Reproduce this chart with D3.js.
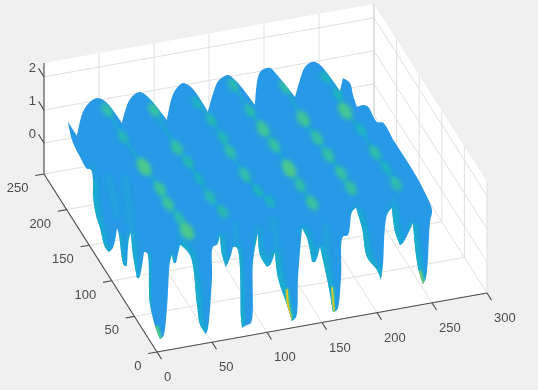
<!DOCTYPE html>
<html>
<head>
<meta charset="utf-8">
<script src="https://d3js.org/d3.v7.min.js"></script>
<style>
html, body { margin: 0; padding: 0; background: #f0f0f0; }
svg { display: block; filter: blur(0.35px); }
text { font-family: "Liberation Sans", sans-serif; font-size: 13px; fill: #4d4d4d; }
</style>
</head>
<body>
<div id="chart"></div>
<script>
var xTicks = [0, 50, 100, 150, 200, 250, 300];
var yTicks = [0, 50, 100, 150, 200, 250];
var zTicks = [0, 1, 2];

// surface outline: [x, z] along y = 235, going right
var backRow = [[15.6,.87],[23.8,.39],[29.3,1.09],[35.6,1.35],[42.9,1.43],[51.1,1.23],[64.7,.54],[70.2,1.12],[75.6,1.33],[81.1,1.38],[88.4,1.19],[105.6,.39],[110.2,1.06],[114.7,1.31],[120.2,1.42],[128.4,1.22],[142.9,.41],[151.1,1.24],[155.6,1.37],[161.1,1.42],[169.3,1.16],[185.6,.37],[188.4,1.2],[192,1.39],[199.3,1.41],[205.6,1.16],[222,.39],[226.5,.88],[231.1,1.25],[238.4,1.36],[244.7,1.23],[262.9,.33],[265.6,.71]];
// [y, z] along x = 266, coming forward
var rightEdge = [[220.4,.87],[213.7,.65],[204.9,.48],[189.4,.87],[180.5,1.01],[160.6,.98],[147.3,1.24],[123,1.21],[98.7,1.22],[74.3,1.21],[52.2,1.11],[38.9,.94]];
// [x, z] along y = 10, going left
var frontRow = [[252.3,1.28],[248.6,-.39],[245.9,-.56],[241.4,-.05],[236.8,1.34],[227.7,.79],[225,.74],[220.5,1.17],[217.7,1.91],[213.2,1.73],[209.5,.23],[207.7,-.21],[204.1,.11],[195,.56],[190.5,1.47],[185,2.11],[181.4,2.01],[177.7,1.33],[173.2,1.3],[171.4,.06],[167.7,-.88],[164.1,-.92],[159.5,-.02],[152.3,1.12],[147.7,.69],[145,.71],[140.5,1.46],[135.9,1.79],[132.3,.3],[130.5,-.87],[126.8,-.97],[122.3,-.46],[114.1,.41],[111.4,1.21],[106.8,.84],[104.1,.8],[97.7,1.2],[95.9,1.88],[91.4,1.03],[89.5,-.81],[85.9,-.85],[81.4,-.91],[80.5,-.61],[76.8,1.54],[73.2,1.59],[70.5,1.27],[66.8,1.02],[63.2,1.41],[61.4,2.02],[58.6,1.74],[55,1.7],[54.1,.76],[50.5,-.73],[48.6,-.9],[43.2,-.59],[40.5,.03],[34.1,1.58],[25,1.94],[21.4,1.41],[19.5,1.43],[17.7,1.68],[15.9,1.48],[13.2,.1],[9.5,-.76],[6.8,-.8],[4.1,-.57]];
// [y, z] along x = 3, going back
var leftEdge = [[22.8,-.02],[29.4,1.41],[36.1,1.29],[47.1,.27],[51.5,.17],[60.4,.68],[64.8,1.25],[69.2,1],[73.7,.06],[80.3,-.06],[91.4,.61],[95.8,.73],[104.6,-.06],[113.5,-.38],[122.3,-.42],[133.4,-.08],[142.3,.12],[148.9,.59],[148.9,1.04],[153.3,1.25],[162.2,1.09],[177.7,1.12],[195.4,1.25]];

// colour spots along the six ridges: [x, y, colour value], z about 1.2
var ridge1 = [[48,227.5,1.5],[47,189.8,1.3],[48.7,147.2,2],[50.3,115.8,1.7],[49.1,95.1,1.7],[50.9,75,1.4],[50.6,56.8,2]];
var ridge2 = [[86.4,216.9,1.6],[85.4,163.8,1.6],[87.2,143.6,1.3],[87.4,119.7,1.1],[87,94.5,1.4],[89.9,72.6,1.4]];
var ridge3 = [[125.2,216,1.2],[127.8,191.4,1.3],[128.2,166,1.3],[126.7,146.7,1.5],[126.9,114.4,1.5],[129.4,91.2,1.2],[133.5,74.6,1.2]];
var ridge4 = [[163.8,230.6,1.4],[164.2,193.9,1.4],[165.5,168.3,1.8],[166.2,145.6,1.6],[166.1,112,2],[166.7,89.4,1.5],[167.1,63.9,1.7]];
var ridge5 = [[205.3,216.3,1.5],[203.4,171.9,1.8],[204.9,144.8,1.6],[205.1,120.8,1.6],[206.4,95.2,1.6],[206.8,74.1,1.6]];
var ridge6 = [[243.1,219.9,1.2],[244.4,194.3,1.2],[241.8,172.5,1.9],[245,145,1.2],[244.5,112.7,1.5],[245.8,91.4,1.2],[245.6,68.9,1.5]];
var spotZ = 1.2;

// left flanks of the teeth that read teal: x ranges on frontRow, y ranges on leftEdge
var frontShades = [[236.8,245.9],[217.7,225],[185,207.7],[152.3,164.1],[135.9,145],[111.4,126.8],[95.9,104.1],[76.8,81.4],[61.4,66.8],[25,48.6],[17.7,19.5]];
var leftShades = [[113.5,148.9],[73.7,91.4],[47.1,64.8],[22.8,29.4]];
// teal folds running down into the teeth: [x, z] along y = 10, [y, z] along x = 3
var frontFolds = [[[109.5,2.25],[118.6,.01]],[[156.8,1.82],[161.4,-.15]],[[75,2.31],[79.5,.25]],[[25,2.39],[43.2,.07]],[[186.8,1.94],[197.7,.54]],[[236.8,1.13],[243.2,-.15]],[[218.6,2.24],[225,.9]]];
var leftFolds = [[[115.7,1.91],[93.6,1.11]],[[78,2.72],[62.6,1.3]],[[151,1.46],[133.4,0]]];
// tips that go green / yellow: [x, z] along y = 10 and a colour value
var tipStreaks = [
    { c: 3, pts: [[122.3,-.01],[123.2,-.46],[125.9,-.88]] },
    { c: 2.8, pts: [[163.2,-.19],[165,-.87]] },
    { c: 2.3, pts: [[243.2,-.18],[245.9,-.53]] },
    { c: 2, pts: [[4.1,-.45],[6.8,-.77]] }
];

var width = 538, height = 390;
var xs = d3.scaleLinear().domain([0, 300]).range([0, 1]);
var ys = d3.scaleLinear().domain([0, 250]).range([0, 1]);
var zs = d3.scaleLinear().domain([-0.94, 2.42]).range([0, 1]);
var color = d3.scaleLinear().domain([0, 1, 2, 3]).range(["#2799e6", "#14b4c4", "#4cc98c", "#f0c020"]);

// screen vectors of the three box edges
var origin = [157, 352], ex = [330, -59], ey = [-113, -178], ez = [0, -111];
function project(x, y, z) {
    var a = xs(x), b = ys(y), c = zs(z);
    return [origin[0] + a * ex[0] + b * ey[0] + c * ez[0],
            origin[1] + a * ex[1] + b * ey[1] + c * ez[1]];
}
var zMin = zs.domain()[0], zMax = zs.domain()[1];

var svg = d3.select("#chart").append("svg").attr("width", width).attr("height", height);
svg.append("rect").attr("width", width).attr("height", height).attr("fill", "#f0f0f0");

var defs = svg.append("defs");
defs.append("filter").attr("id", "blurS").attr("x", "-50%").attr("y", "-50%").attr("width", "200%").attr("height", "200%")
    .append("feGaussianBlur").attr("stdDeviation", 2);
defs.append("filter").attr("id", "blurT").attr("x", "-50%").attr("y", "-50%").attr("width", "200%").attr("height", "200%")
    .append("feGaussianBlur").attr("stdDeviation", 0.8);

var straight = d3.line();
function poly(pts) { return straight(pts) + "Z"; }

// white panes
var panes = svg.append("g").attr("fill", "#fff");
panes.append("path").attr("d", poly([project(0,0,zMin), project(300,0,zMin), project(300,250,zMin), project(0,250,zMin)]));
panes.append("path").attr("d", poly([project(0,250,zMin), project(300,250,zMin), project(300,250,zMax), project(0,250,zMax)]));
panes.append("path").attr("d", poly([project(300,0,zMin), project(300,250,zMin), project(300,250,zMax), project(300,0,zMax)]));

// grid
var grid = svg.append("g").attr("stroke", "#e0e0e0").attr("stroke-width", 1).attr("fill", "none");
function gridLine(pts) { grid.append("path").attr("d", straight(pts)); }
xTicks.forEach(function (t) {
    gridLine([project(t,0,zMin), project(t,250,zMin), project(t,250,zMax)]);
});
yTicks.forEach(function (t) {
    gridLine([project(0,t,zMin), project(300,t,zMin), project(300,t,zMax)]);
});
zTicks.forEach(function (t) {
    gridLine([project(0,250,t), project(300,250,t), project(300,0,t)]);
});
grid.append("path").attr("d", straight([project(300,250,zMin), project(300,250,zMax)])).attr("stroke", "#d6d6d6");

// axes
var axes = svg.append("g").attr("stroke", "#4d4d4d").attr("stroke-width", 1.1).attr("fill", "none");
axes.append("path").attr("d", straight([project(0,0,zMin), project(300,0,zMin)]));
axes.append("path").attr("d", straight([project(0,0,zMin), project(0,250,zMin)]));
axes.append("path").attr("d", straight([project(0,250,zMin), project(0,250,zMax)]));

var labels = svg.append("g");
xTicks.forEach(function (t) {
    var p = project(t, 0, zMin);
    axes.append("path").attr("d", straight([p, project(t, -10, zMin)]));
    labels.append("text").attr("x", p[0] + 7).attr("y", p[1] + 29).attr("text-anchor", "start").text(t);
});
yTicks.forEach(function (t) {
    var p = project(0, t, zMin);
    axes.append("path").attr("d", straight([p, project(-8, t, zMin)]));
    labels.append("text").attr("x", p[0] - 15.5).attr("y", p[1] + 18).attr("text-anchor", "end").text(t);
});
zTicks.forEach(function (t) {
    var p = project(0, 250, t);
    axes.append("path").attr("d", straight([p, project(0, 262, t)]));
    labels.append("text").attr("x", p[0] - 8).attr("y", p[1] - 5).attr("text-anchor", "end").text(t);
});

// surface: outline from the four edges, then colour on top, clipped to it
var outline = [];
backRow.forEach(function (d) { outline.push(project(d[0], 235, d[1])); });
rightEdge.forEach(function (d) { outline.push(project(266, d[0], d[1])); });
frontRow.forEach(function (d) { outline.push(project(d[0], 10, d[1])); });
leftEdge.forEach(function (d) { outline.push(project(3, d[0], d[1])); });

var smooth = d3.line().curve(d3.curveCatmullRom.alpha(0.5));

// sharp corners stay sharp: break the spline where the outline turns hard
function turn(a, b, c) {
    var t = Math.atan2(c[1] - b[1], c[0] - b[0]) - Math.atan2(b[1] - a[1], b[0] - a[0]);
    while (t > Math.PI) t -= 2 * Math.PI;
    while (t < -Math.PI) t += 2 * Math.PI;
    return Math.abs(t) * 180 / Math.PI;
}
function outlinePath(pts) {
    var n = pts.length, d = "", piece = [pts[0]];
    for (var i = 1; i <= n; i++) {
        var p = pts[i % n];
        piece.push(p);
        if (i === n || turn(pts[i - 1], p, pts[(i + 1) % n]) > 75) {
            var s = smooth(piece);
            d += d ? "L" + s.slice(1) : s;
            piece = [p];
        }
    }
    return d + "Z";
}
var surfacePath = outlinePath(outline);

defs.append("clipPath").attr("id", "surfaceClip").append("path").attr("d", surfacePath);

var surface = svg.append("g");
surface.append("path").attr("d", surfacePath).attr("fill", color(0));

var inner = surface.append("g").attr("clip-path", "url(#surfaceClip)");

frontFolds.forEach(function (f) {
    inner.append("path").attr("d", smooth(f.map(function (d) { return project(d[0], 10, d[1]); })))
        .attr("fill", "none").attr("stroke", color(0.8)).attr("stroke-width", 6)
        .attr("stroke-opacity", 0.4).attr("filter", "url(#blurS)");
});
leftFolds.forEach(function (f) {
    inner.append("path").attr("d", smooth(f.map(function (d) { return project(3, d[0], d[1]); })))
        .attr("fill", "none").attr("stroke", color(0.8)).attr("stroke-width", 6)
        .attr("stroke-opacity", 0.4).attr("filter", "url(#blurS)");
});

frontShades.forEach(function (r) {
    var pts = frontRow.filter(function (d) { return d[0] >= r[0] && d[0] <= r[1]; })
        .map(function (d) { return project(d[0], 10, d[1]); });
    inner.append("path").attr("d", smooth(pts))
        .attr("fill", "none").attr("stroke", color(1)).attr("stroke-width", 9)
        .attr("stroke-opacity", 0.7).attr("filter", "url(#blurS)");
});
leftShades.forEach(function (r) {
    var pts = leftEdge.filter(function (d) { return d[0] >= r[0] && d[0] <= r[1]; })
        .map(function (d) { return project(3, d[0], d[1]); });
    inner.append("path").attr("d", smooth(pts))
        .attr("fill", "none").attr("stroke", color(1)).attr("stroke-width", 8)
        .attr("stroke-opacity", 0.7).attr("filter", "url(#blurS)");
});

tipStreaks.forEach(function (s) {
    var pts = s.pts.map(function (d) { return project(d[0], 10, d[1]); });
    inner.append("path").attr("d", smooth(pts))
        .attr("fill", "none").attr("stroke", color(2)).attr("stroke-width", 4)
        .attr("stroke-linecap", "round").attr("filter", "url(#blurT)");
    inner.append("path").attr("d", smooth(pts))
        .attr("fill", "none").attr("stroke", color(s.c)).attr("stroke-width", 1.8)
        .attr("stroke-linecap", "round");
});

var ridges = [ridge1, ridge2, ridge3, ridge4, ridge5, ridge6];
var spotRx = d3.scaleLinear().domain([1, 2]).range([5.5, 10]);
var spotRy = d3.scaleLinear().domain([1, 2]).range([3, 6]);
var spotAngle = Math.atan2(-ey[1], -ey[0]) * 180 / Math.PI;

ridges.forEach(function (ridge) {
    inner.append("path")
        .attr("d", smooth(ridge.map(function (d) { return project(d[0], d[1], spotZ); })))
        .attr("fill", "none").attr("stroke", color(1)).attr("stroke-width", 3.5)
        .attr("stroke-opacity", 0.5).attr("filter", "url(#blurT)");
    ridge.forEach(function (d) {
        var p = project(d[0], d[1], spotZ);
        inner.append("ellipse")
            .attr("transform", "translate(" + p[0] + "," + p[1] + ") rotate(" + spotAngle + ")")
            .attr("rx", spotRx(d[2])).attr("ry", spotRy(d[2]))
            .attr("fill", color(d[2])).attr("filter", "url(#blurS)");
    });
});
</script>
</body>
</html>
